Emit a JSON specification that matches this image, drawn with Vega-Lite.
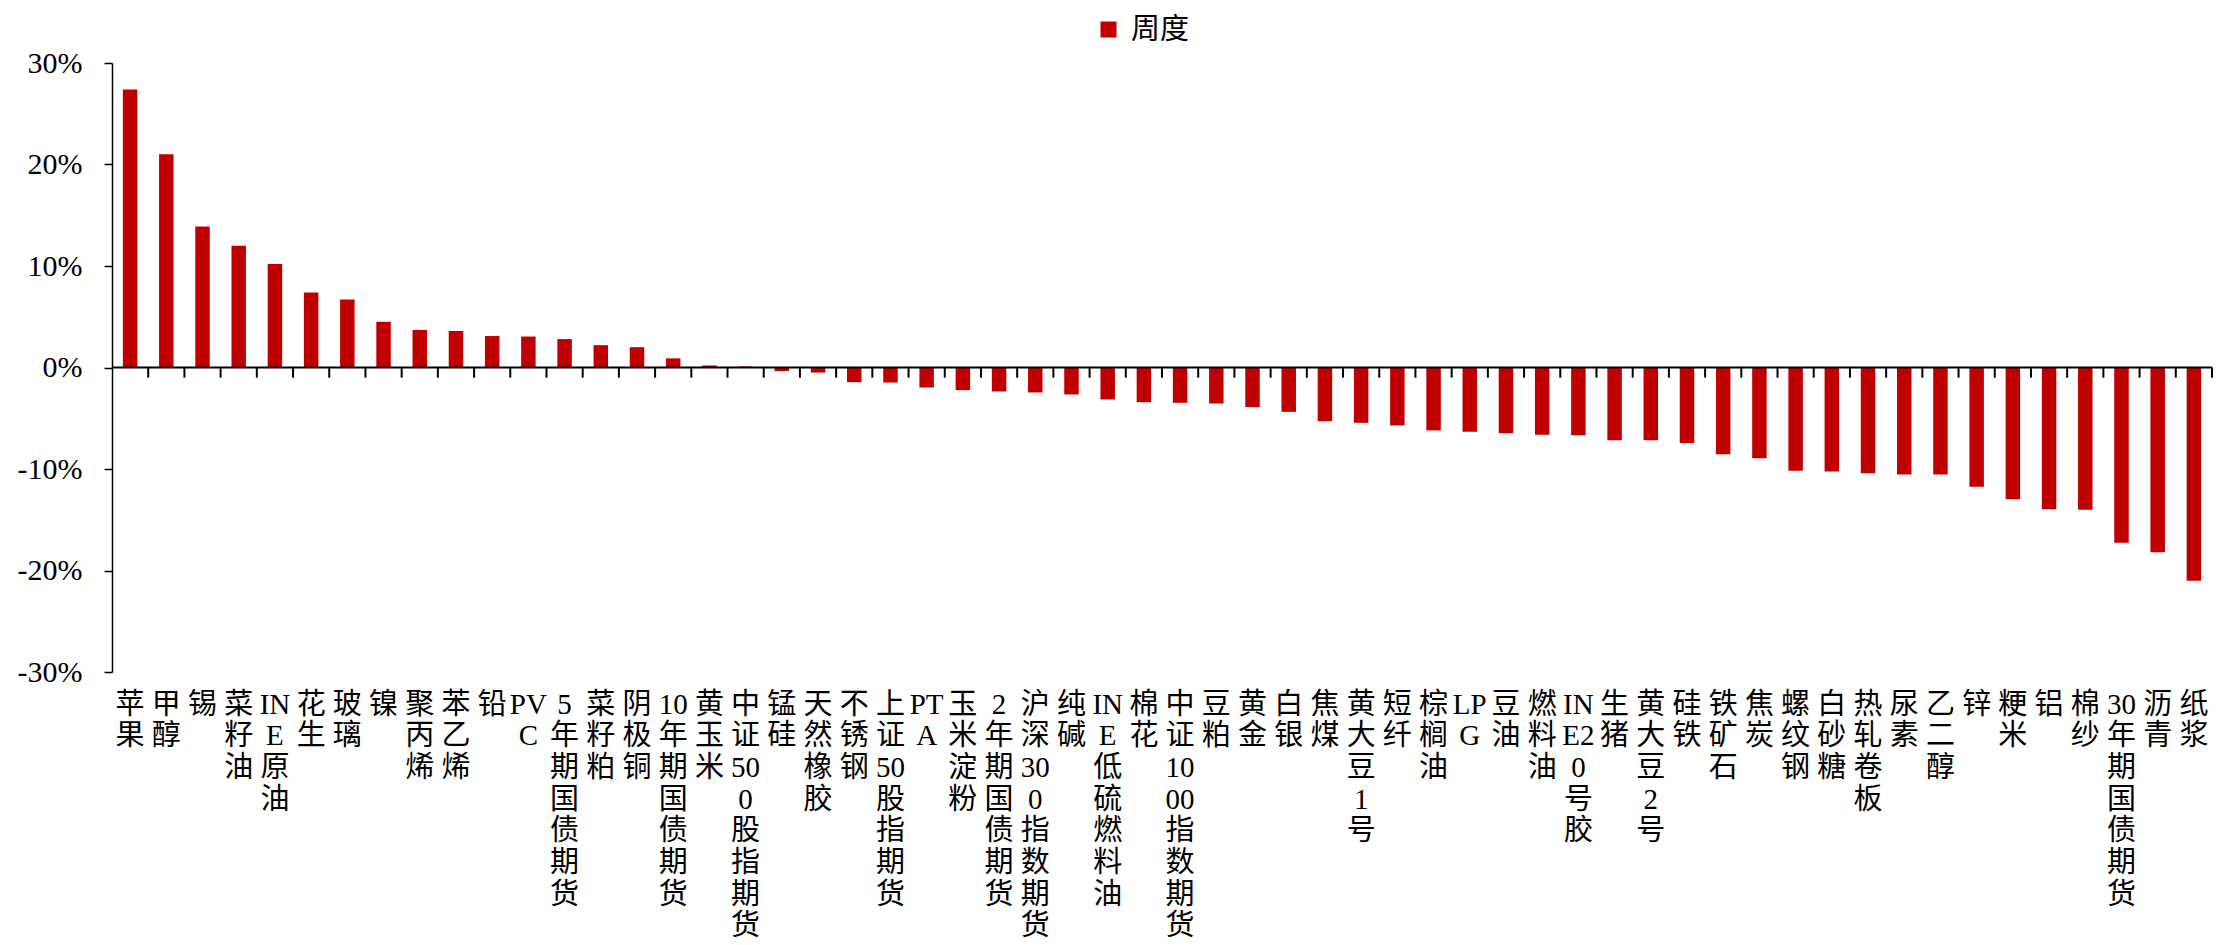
{
  "$schema": "https://vega.github.io/schema/vega-lite/v6.json",
  "width": 2100,
  "height": 609,
  "autosize": {"type": "none"},
  "padding": {"left": 112, "top": 63, "right": 4, "bottom": 273},
  "background": "white",
  "config": {"view": {"stroke": null}, "axis": {"grid": false}},
  "data": {
    "values": [
      {"name": "苹果", "value": 27.4},
      {"name": "甲醇", "value": 21.0},
      {"name": "锡", "value": 13.9},
      {"name": "菜籽油", "value": 12.0},
      {"name": "INE原油", "value": 10.2},
      {"name": "花生", "value": 7.4},
      {"name": "玻璃", "value": 6.7},
      {"name": "镍", "value": 4.5},
      {"name": "聚丙烯", "value": 3.7},
      {"name": "苯乙烯", "value": 3.6},
      {"name": "铅", "value": 3.1},
      {"name": "PVC", "value": 3.05},
      {"name": "5年期国债期货", "value": 2.8},
      {"name": "菜籽粕", "value": 2.2},
      {"name": "阴极铜", "value": 2.0},
      {"name": "10年期国债期货", "value": 0.9},
      {"name": "黄玉米", "value": 0.2},
      {"name": "中证500股指期货", "value": 0.1},
      {"name": "锰硅", "value": -0.35},
      {"name": "天然橡胶", "value": -0.5},
      {"name": "不锈钢", "value": -1.45},
      {"name": "上证50股指期货", "value": -1.48},
      {"name": "PTA", "value": -1.97},
      {"name": "玉米淀粉", "value": -2.23},
      {"name": "2年期国债期货", "value": -2.36},
      {"name": "沪深300指数期货", "value": -2.46},
      {"name": "纯碱", "value": -2.66},
      {"name": "INE低硫燃料油", "value": -3.15},
      {"name": "棉花", "value": -3.42},
      {"name": "中证1000指数期货", "value": -3.48},
      {"name": "豆粕", "value": -3.55},
      {"name": "黄金", "value": -3.9},
      {"name": "白银", "value": -4.37},
      {"name": "焦煤", "value": -5.29},
      {"name": "黄大豆1号", "value": -5.45},
      {"name": "短纤", "value": -5.71},
      {"name": "棕榈油", "value": -6.2},
      {"name": "LPG", "value": -6.34},
      {"name": "豆油", "value": -6.47},
      {"name": "燃料油", "value": -6.63},
      {"name": "INE20号胶", "value": -6.67},
      {"name": "生猪", "value": -7.16},
      {"name": "黄大豆2号", "value": -7.16},
      {"name": "硅铁", "value": -7.45},
      {"name": "铁矿石", "value": -8.54},
      {"name": "焦炭", "value": -8.93},
      {"name": "螺纹钢", "value": -10.18},
      {"name": "白砂糖", "value": -10.25},
      {"name": "热轧卷板", "value": -10.41},
      {"name": "尿素", "value": -10.54},
      {"name": "乙二醇", "value": -10.54},
      {"name": "锌", "value": -11.76},
      {"name": "粳米", "value": -12.97},
      {"name": "铝", "value": -13.96},
      {"name": "棉纱", "value": -14.02},
      {"name": "30年期国债期货", "value": -17.27},
      {"name": "沥青", "value": -18.2},
      {"name": "纸浆", "value": -21.0}
    ]
  },
  "layer": [
    {
      "mark": {"type": "bar", "color": "#C00000"},
      "encoding": {
        "x": {
          "field": "name",
          "type": "nominal",
          "sort": null,
          "scale": {"paddingInner": 0.6, "paddingOuter": 0.3},
          "axis": {
            "title": null,
            "domain": false,
            "ticks": false,
            "labelAngle": 0,
            "labelAlign": "center",
            "labelBaseline": "top",
            "labelPadding": 18,
            "labelFont": "Liberation Serif, Noto Sans CJK SC",
            "labelFontSize": 29,
            "labelLineHeight": 31.7,
            "labelColor": "black",
            "labelOverlap": false,
            "labelLimit": 0,
            "labelFlush": false,
            "labelExpr": "split(replace(datum.label, regexp('[0-9A-Z]{2}|.', 'g'), '$&|'), '|')"
          }
        },
        "y": {
          "field": "value",
          "type": "quantitative",
          "scale": {"domain": [-30, 30], "nice": false},
          "axis": {
            "title": null,
            "values": [-30, -20, -10, 0, 10, 20, 30],
            "labelExpr": "datum.value + '%'",
            "labelFont": "Liberation Serif",
            "labelFontSize": 30,
            "labelColor": "black",
            "labelPadding": 22,
            "tickColor": "black",
            "tickSize": 8,
            "tickWidth": 1.5,
            "domainColor": "black",
            "domainWidth": 1.5,
            "grid": false
          }
        },
        "color": {
          "datum": "周度",
          "type": "nominal",
          "scale": {"range": ["#C00000"]},
          "legend": {
            "title": null,
            "orient": "none",
            "legendX": 982,
            "legendY": -48,
            "symbolType": "square",
            "symbolSize": 256,
            "symbolStrokeWidth": 0,
            "labelFont": "Noto Sans CJK SC",
            "labelFontSize": 29,
            "labelColor": "black",
            "labelOffset": 8,
            "padding": 0
          }
        }
      }
    },
    {
      "data": {"values": [{}]},
      "mark": {"type": "rule", "color": "black", "strokeWidth": 2},
      "encoding": {"y": {"datum": 0, "type": "quantitative"}}
    },
    {
      "mark": {"type": "rule", "color": "black", "strokeWidth": 2},
      "encoding": {
        "x": {"field": "name", "type": "nominal", "sort": null, "bandPosition": 1.75},
        "y": {"datum": 0, "type": "quantitative"},
        "y2": {"datum": -1}
      }
    }
  ]
}
